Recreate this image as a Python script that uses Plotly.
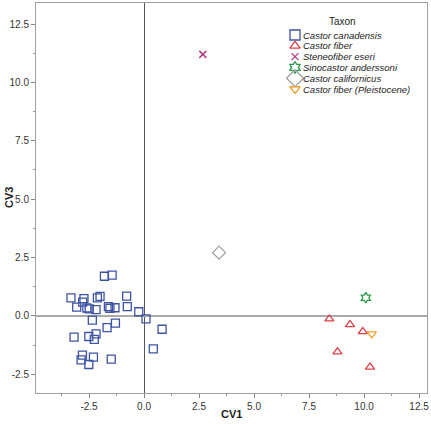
import plotly.graph_objects as go

# ---- data ----
canadensis_x = [-1.80, -1.45, -3.32, -2.73, -2.12, -2.00, -0.79, -3.06, -2.79, -2.60, -2.49,
                -2.18, -1.62, -1.55, -1.32, -0.76, -0.24, 0.09, -2.35, -1.30, -1.68, 0.82,
                -3.18, -2.51, -2.18, -2.26, 0.42, -2.80, -2.86, -2.30, -2.51, -1.49]
canadensis_y = [1.70, 1.75, 0.77, 0.74, 0.77, 0.84, 0.85, 0.38, 0.59, 0.34, 0.30,
                0.27, 0.40, 0.33, 0.35, 0.40, 0.18, -0.13, -0.18, -0.31, -0.50, -0.57,
                -0.91, -0.88, -0.77, -1.00, -1.41, -1.68, -1.88, -1.76, -2.08, -1.85]
fiber_x = [8.42, 9.36, 9.94, 8.79, 10.27]
fiber_y = [-0.13, -0.37, -0.67, -1.54, -2.19]
steneofiber_x = [2.67]
steneofiber_y = [11.20]
sinocastor_x = [10.08]
sinocastor_y = [0.78]
californicus_x = [3.41]
californicus_y = [2.71]
pleisto_x = [10.35]
pleisto_y = [-0.77]

taxa = ["Castor canadensis", "Castor fiber", "Steneofiber eseri",
        "Sinocastor anderssoni", "Castor californicus", "Castor fiber (Pleistocene)"]
symbols = ["square-open", "triangle-up-open", "x-thin-open", "hexagram-open",
           "diamond-open", "triangle-down-open"]
colors = ["#3f53a3", "#dc4048", "#b03c82", "#2a9a4a", "#a0a0a0", "#f0a030"]
sizes = [8, 8, 7, 8, 10, 8]
legend_sizes = [10, 9, 7, 9, 13, 9]

xs = [canadensis_x, fiber_x, steneofiber_x, sinocastor_x, californicus_x, pleisto_x]
ys = [canadensis_y, fiber_y, steneofiber_y, sinocastor_y, californicus_y, pleisto_y]

x_ticks = [-2.5, 0.0, 2.5, 5.0, 7.5, 10.0, 12.5]
y_ticks = [-2.5, 0.0, 2.5, 5.0, 7.5, 10.0, 12.5]

W, H = 431, 424
L, R, T, B = 36, 4, 3, 31

fig = go.Figure()
for i, name in enumerate(taxa):
    lw = 1.3 if symbols[i] != "x-thin-open" else 1.5
    fig.add_trace(go.Scatter(
        x=xs[i], y=ys[i], mode="markers", name=name, showlegend=False,
        marker=dict(symbol=symbols[i], size=sizes[i], color=colors[i],
                    line=dict(width=lw, color=colors[i])),
        cliponaxis=False))

# ---- custom legend on a pixel-space overlay axis ----
px_x0, px_x1 = L, W - R
px_y0, px_y1 = H - B, T
row0, row_gap = 35, 10.8
marker_x, text_x = 295, 301
leg_y = [row0 + i * row_gap for i in range(len(taxa))]
for i, name in enumerate(taxa):
    fig.add_trace(go.Scatter(
        x=[marker_x], y=[leg_y[i]], xaxis="x2", yaxis="y2", mode="markers",
        showlegend=False, hoverinfo="skip",
        marker=dict(symbol=symbols[i], size=legend_sizes[i], color=colors[i],
                    line=dict(width=1.3, color=colors[i]))))
    fig.add_annotation(x=text_x, y=leg_y[i], xref="x2", yref="y2", text=f"<i>{name}</i>",
                       showarrow=False, xanchor="left", yanchor="middle",
                       font=dict(family="Liberation Sans, Arial", size=9.5, color="#222"))
fig.add_annotation(x=342, y=21, xref="x2", yref="y2", text="Taxon",
                   showarrow=False, xanchor="center", yanchor="middle",
                   font=dict(family="Liberation Sans, Arial", size=10, color="#222"))

# axis titles (paper coordinates)
plot_h = H - T - B
plot_w = W - L - R
fig.add_annotation(x=0.5, y=-(414 - (H - B)) / plot_h, xref="paper", yref="paper",
                   text="<b>CV1</b>", showarrow=False, xanchor="center", yanchor="middle",
                   font=dict(family="Liberation Sans, Arial", size=11, color="#222"))
fig.add_annotation(x=-(L - 9) / plot_w, y=0.5, xref="paper", yref="paper",
                   text="<b>CV3</b>", showarrow=False, textangle=-90,
                   xanchor="center", yanchor="middle",
                   font=dict(family="Liberation Sans, Arial", size=11, color="#222"))

tickfont = dict(family="Liberation Sans, Arial", size=10, color="#333")
fig.update_layout(
    width=W, height=H, margin=dict(l=L, r=R, t=T, b=B),
    paper_bgcolor="white", plot_bgcolor="white", showlegend=False,
    xaxis=dict(range=[-4.91, 12.86], tickvals=x_ticks, ticktext=[f"{v:.1f}" for v in x_ticks],
               ticks="outside", ticklen=4, tickcolor="#888", tickfont=tickfont,
               minor=dict(ticks="outside", ticklen=2, dtick=1.25, tick0=0, tickcolor="#999"),
               showgrid=False, showline=True, linecolor="#a0a0a0", linewidth=1, mirror=True,
               zeroline=True, zerolinecolor="#555", zerolinewidth=1, automargin=False),
    yaxis=dict(range=[-3.30, 13.40], tickvals=y_ticks, ticktext=[f"{v:.1f}" for v in y_ticks],
               ticks="outside", ticklen=4, tickcolor="#888", tickfont=tickfont,
               minor=dict(ticks="outside", ticklen=2, dtick=1.25, tick0=0, tickcolor="#999"),
               showgrid=False, showline=True, linecolor="#a0a0a0", linewidth=1, mirror=True,
               zeroline=True, zerolinecolor="#aaa", zerolinewidth=1.5, automargin=False),
    xaxis2=dict(range=[px_x0, px_x1], overlaying="x", visible=False, fixedrange=True),
    yaxis2=dict(range=[px_y0, px_y1], overlaying="y", visible=False, fixedrange=True),
)

fig.write_html("out.html", config={"displayModeBar": False},
               post_script="document.body.style.margin='0';document.body.style.overflow='hidden';")
